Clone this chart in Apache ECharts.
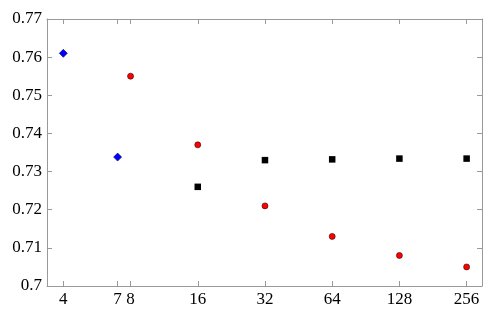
<!DOCTYPE html>
<html><head><meta charset="utf-8">
<script src="https://cdn.jsdelivr.net/npm/echarts@6/dist/echarts.min.js"></script>
<style>html,body{margin:0;padding:0;background:#fff}#c{width:496px;height:309px}</style>
</head><body><div id="c"></div>
<script>
const xTicks = [4, 7, 8, 16, 32, 64, 128, 256];
const yTicks = [0.7, 0.71, 0.72, 0.73, 0.74, 0.75, 0.76, 0.77];
const blueX = [4, 7];
const blueY = [0.761, 0.7338];
const redX = [8, 16, 32, 64, 128, 256];
const redY = [0.755, 0.737, 0.721, 0.713, 0.708, 0.705];
const blackX = [16, 32, 64, 128, 256];
const blackY = [0.726, 0.733, 0.7332, 0.7334, 0.7334];

const pairs = (xs, ys) => xs.map((x, i) => [x, ys[i]]);
const axisColor = '#999';
const font = 'Liberation Serif';

const xBase = {
  type: 'log', logBase: 2, min: 3.38, max: 300,
  axisLine: {lineStyle: {color: axisColor, width: 1}},
  axisTick: {inside: true, length: 5, customValues: xTicks, lineStyle: {color: axisColor}},
  splitLine: {show: false}, minorTick: {show: false}
};
const yBase = {
  type: 'value', min: 0.7, max: 0.77, interval: 0.01,
  axisLine: {show: true, lineStyle: {color: axisColor, width: 1}},
  axisTick: {show: true, inside: true, length: 5, lineStyle: {color: axisColor}},
  splitLine: {show: false}
};

const chart = echarts.init(document.getElementById('c'), null, {renderer: 'canvas'});
chart.setOption({
  animation: false,
  textStyle: {fontFamily: font},
  grid: {left: 47, right: 14, top: 19, bottom: 23, containLabel: false},
  xAxis: [
    Object.assign({}, xBase, {position: 'bottom',
      axisLabel: {customValues: xTicks, color: '#000', fontFamily: font, fontSize: 17, margin: 5,
        formatter: v => String(Math.round(v))}}),
    Object.assign({}, xBase, {position: 'top', axisLabel: {show: false}})
  ],
  yAxis: [
    Object.assign({}, yBase, {position: 'left',
      axisLabel: {color: '#000', fontFamily: font, fontSize: 17, margin: 5,
        formatter: v => String(+v.toFixed(2))}}),
    Object.assign({}, yBase, {position: 'right', axisLabel: {show: false}})
  ],
  series: [
    {type: 'scatter', data: pairs(blueX, blueY), symbol: 'diamond', symbolSize: 8,
     itemStyle: {color: '#0000ff', opacity: 1, borderColor: '#000033', borderWidth: 0.6}},
    {type: 'scatter', data: pairs(redX, redY), symbol: 'circle', symbolSize: 6,
     itemStyle: {color: '#ff0000', opacity: 1, borderColor: '#330000', borderWidth: 0.6}},
    {type: 'scatter', data: pairs(blackX, blackY), symbol: 'rect', symbolSize: 6.5,
     itemStyle: {color: '#000', opacity: 1, borderWidth: 0}}
  ]
});
</script></body></html>
